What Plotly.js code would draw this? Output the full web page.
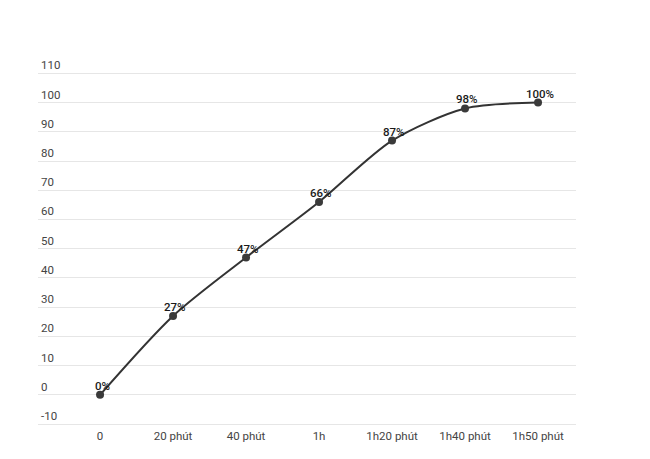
<!DOCTYPE html>
<html>
<head>
<meta charset="utf-8">
<script src="https://cdn.plot.ly/plotly-3.0.1.min.js"></script>
<style>html,body{margin:0;padding:0;background:#fff;}#chart{width:650px;height:459px;}</style>
</head>
<body>
<div id="chart"></div>
<script>
const categories = ["0", "20 phút", "40 phút", "1h", "1h20 phút", "1h40 phút", "1h50 phút"];
const values = [0, 27, 47, 66, 87, 98, 100];
const labels = ["0%", "27%", "47%", "66%", "87%", "98%", "100%"];
const yTicks = [-10, 0, 10, 20, 30, 40, 50, 60, 70, 80, 90, 100, 110];

const lineTrace = {
  x: categories,
  y: values,
  type: "scatter",
  mode: "lines+markers",
  line: {shape: "spline", smoothing: 0.8, color: "#333333", width: 2},
  marker: {size: 8, color: "#3a3a3a"},
  cliponaxis: false,
  hoverinfo: "skip"
};

const annotations = categories.map((c, i) => ({
  x: c, y: values[i], text: labels[i],
  showarrow: false, xshift: 2, yshift: 9,
  font: {family: "Roboto, Arial, sans-serif", size: 11.5, color: "#1a1a1a", weight: 500}
}));

const layout = {
  width: 650, height: 459,
  margin: {l: 38, r: 74, t: 50, b: 32},
  paper_bgcolor: "#ffffff", plot_bgcolor: "#ffffff",
  showlegend: false,
  font: {family: "Roboto, Arial, sans-serif", size: 12, color: "#444444"},
  annotations: annotations,
  xaxis: {
    type: "category",
    range: [-0.85, 6.52],
    showgrid: false, zeroline: false, showline: false,
    ticks: "", tickfont: {size: 11.5, color: "#444444"},
    fixedrange: true
  },
  yaxis: {
    range: [-11, 118],
    tickvals: yTicks,
    ticktext: yTicks.map(String),
    ticklabelposition: "inside top",
    showgrid: true, gridcolor: "#e6e6e6", gridwidth: 1,
    zeroline: false, showline: false, ticks: "",
    tickfont: {size: 11.5, color: "#444444"},
    fixedrange: true
  }
};

Plotly.newPlot("chart", [lineTrace], layout, {displayModeBar: false, staticPlot: true});
</script>
</body>
</html>
